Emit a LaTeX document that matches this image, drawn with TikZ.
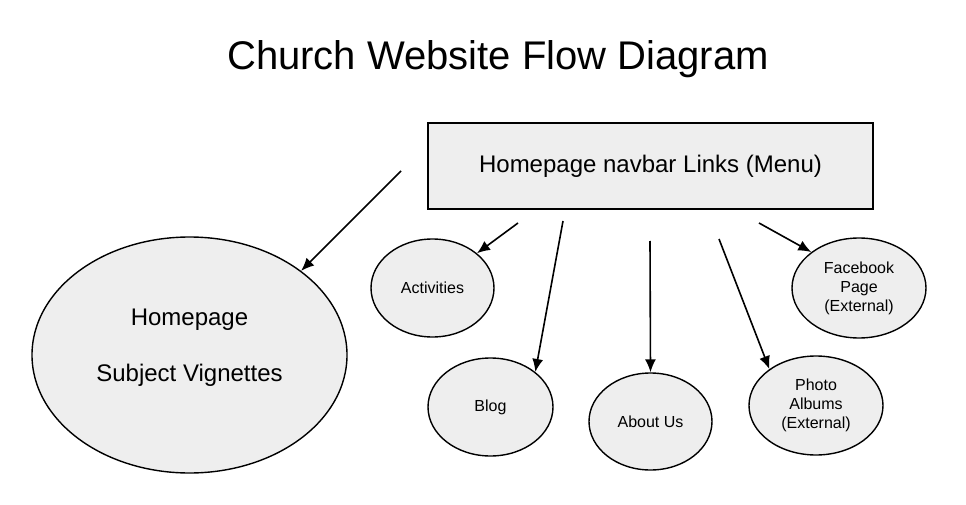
\documentclass[tikz,border=0pt]{standalone}
\usepackage{fontspec}
\setmainfont{Liberation Sans}
\usetikzlibrary{shapes.geometric,arrows.meta}
\definecolor{boxfill}{RGB}{238,238,238}
\tikzset{
  bub/.style={ellipse, draw=black, line width=1.4pt, fill=boxfill, inner sep=0pt, align=center, font=\fontsize{16}{19}\selectfont},
  menubox/.style={rectangle, draw=black, line width=1.4pt, fill=boxfill, minimum width=445pt, minimum height=86pt, font=\fontsize{24}{28}\selectfont},
  arr/.style={line width=1.6pt, -{Latex[length=13pt,width=11pt]}}
}
\begin{document}
\begin{tikzpicture}[x=1pt,y=-1pt]
\useasboundingbox (0,0) rectangle (966,505);
\node[font=\fontsize{40}{46}\selectfont, anchor=base, inner sep=0pt] (title) at (498,70) {Church Website Flow Diagram};
\node[menubox] (menu) at (650.5,166) {Homepage navbar Links (Menu)};
\node[bub, minimum width=315pt, minimum height=236pt] (home) at (189.5,355) {};
\node[align=center, font=\fontsize{24}{56}\selectfont] (homelabel) at (189.5,348) {Homepage\\Subject Vignettes};
\node[bub, minimum width=123pt, minimum height=98pt] (act) at (432.5,288) {Activities};
\node[bub, minimum width=125pt, minimum height=98pt] (blog) at (490.5,407) {Blog};
\node[bub, minimum width=123pt, minimum height=97pt] (about) at (650.5,421.5) {About Us};
\node[bub, minimum width=134pt, minimum height=99pt] (photo) at (816,405.5) {Photo\\Albums\\(External)};
\node[bub, minimum width=134pt, minimum height=100pt] (fb) at (859,288) {Facebook\\Page\\(External)};
\coordinate (s1) at (401,171);
\coordinate (s2) at (518,223);
\coordinate (s3) at (563,221);
\coordinate (s4) at (650,241);
\coordinate (s5) at (719,239);
\coordinate (s6) at (759,223);
\draw[arr] (s1) -- (home.37);
\draw[arr] (s2) -- (act.38);
\draw[arr] (s3) -- (blog.38);
\draw[arr] (s4) -- (about.90);
\draw[arr] (s5) -- (photo.142);
\draw[arr] (s6) -- (fb.143);
\end{tikzpicture}
\end{document}
